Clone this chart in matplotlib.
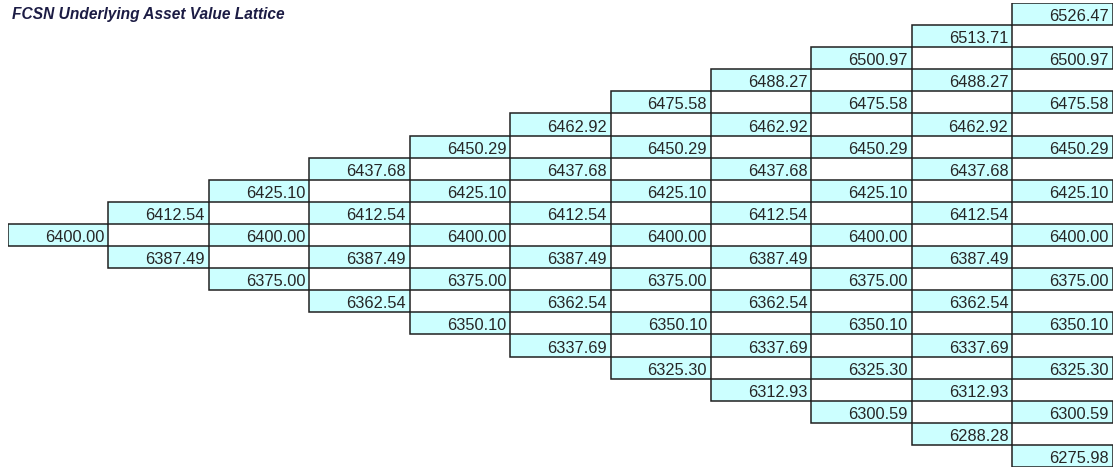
import matplotlib.pyplot as plt

# underlying values by lattice level (ups minus downs)
levels = list(range(10, -11, -1))
level_values = [6526.47, 6513.71, 6500.97, 6488.27, 6475.58, 6462.92, 6450.29,
                6437.68, 6425.10, 6412.54, 6400.00, 6387.49, 6375.00, 6362.54,
                6350.10, 6337.69, 6325.30, 6312.93, 6300.59, 6288.28, 6275.98]
steps = list(range(11))
title = 'FCSN Underlying Asset Value Lattice'

W, H = 1117, 469
n_rows = len(levels)
n_cols = len(steps)


def main():
    plt.rcParams['font.family'] = ['Liberation Sans', 'DejaVu Sans']
    fig = plt.figure(figsize=(W / 100, H / 100), dpi=100)
    left, right, top, bottom = 8, 1112.7, 3, 467
    ax = fig.add_axes([left / W, 1 - bottom / H, (right - left) / W, (bottom - top) / H])
    ax.set_xlim(0, n_cols)
    ax.set_ylim(n_rows, 0)
    ax.axis('off')

    value_of = dict(zip(levels, level_values))
    pad = 4 / ((right - left) / n_cols)
    for i in steps:
        node_levels = range(i, -i - 1, -2)
        rows = [10 - lv for lv in node_levels]
        vals = [value_of[lv] for lv in node_levels]
        ax.bar([i] * len(rows), [1] * len(rows), bottom=rows, width=1, align='edge',
               color='#ccffff', edgecolor='#202020', linewidth=1.1)
        for r, v in zip(rows, vals):
            ax.text(i + 1 - pad, r + 0.82, f'{v:.2f}', ha='right', va='baseline',
                    fontsize=11.8, color='#262626')

    fig.text(12 / W, 1 - 19 / H, title, ha='left', va='baseline', fontsize=11.2,
             fontweight='bold', fontstyle='italic', color='#1c1c44')

    fig.savefig('out.png', dpi=100)


if __name__ == '__main__':
    main()
